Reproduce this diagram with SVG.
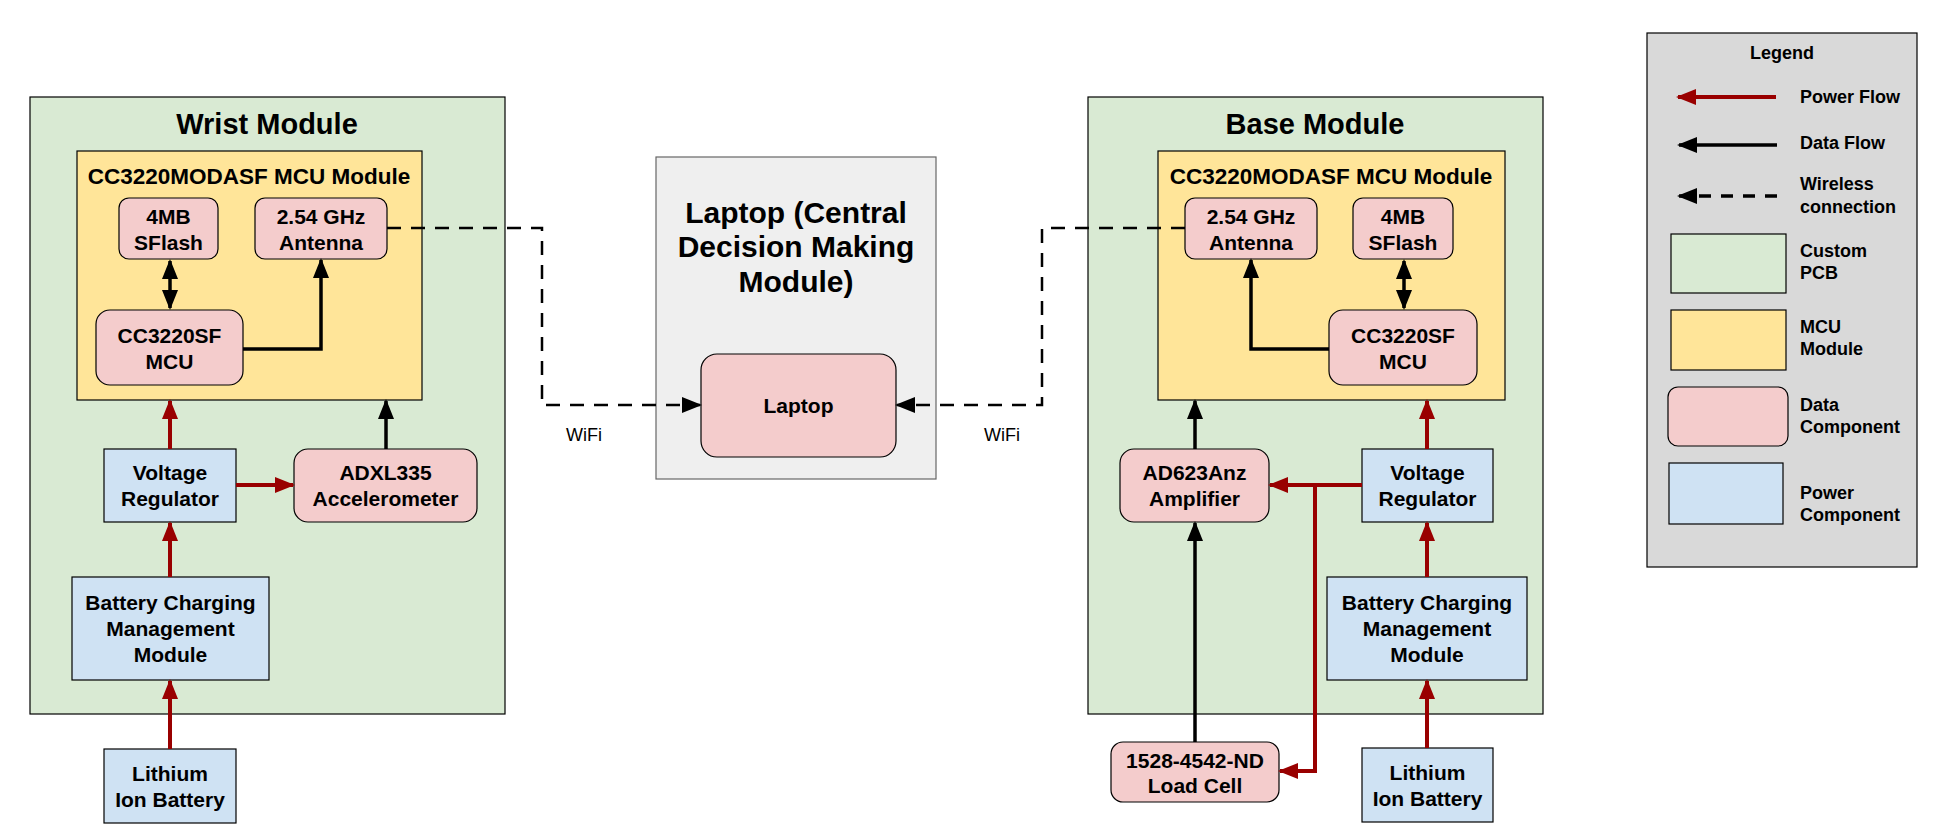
<svg xmlns="http://www.w3.org/2000/svg" width="1941" height="836" viewBox="0 0 1941 836">
<style>
text{font-family:"Liberation Sans",Arial,sans-serif;font-weight:bold;fill:#000;text-anchor:middle;dominant-baseline:central}
.pcb{fill:#d9ead3;stroke:#000;stroke-width:1.2}
.mcu{fill:#ffe599;stroke:#000;stroke-width:1.2}
.data{fill:#f4cccc;stroke:#000;stroke-width:1.2}
.pwr{fill:#cfe2f3;stroke:#000;stroke-width:1.2}
.t{font-size:21px}
.big{font-size:29px}
.lt{font-size:30px}
.mid{font-size:22.5px}
.lg{font-size:18px;text-anchor:start}
.wf{font-weight:normal;font-size:18px}
.p{fill:none;stroke:#990000;stroke-width:4}
.d{fill:none;stroke:#000;stroke-width:3.5}
.w{fill:none;stroke:#000;stroke-width:2.5;stroke-dasharray:14 10}
</style>
<defs>
<marker id="ar" markerUnits="userSpaceOnUse" markerWidth="20" markerHeight="20" viewBox="0 0 20 20" refX="18" refY="10" orient="auto"><path d="M0,2 L20,10 L0,18 z" fill="#990000"/></marker>
<marker id="ab" markerUnits="userSpaceOnUse" markerWidth="20" markerHeight="20" viewBox="0 0 20 20" refX="18" refY="10" orient="auto"><path d="M0,2 L20,10 L0,18 z" fill="#000"/></marker>
<marker id="abs" markerUnits="userSpaceOnUse" markerWidth="20" markerHeight="20" viewBox="0 0 20 20" refX="2" refY="10" orient="auto"><path d="M20,2 L0,10 L20,18 z" fill="#000"/></marker>
</defs>

<g id="wrist-module"><rect class="pcb" x="30" y="97" width="475" height="617"/><text class="big" x="267" y="124">Wrist Module</text></g>
<g id="wrist-mcu-module"><rect class="mcu" x="77" y="151" width="345" height="249"/><text class="mid" x="249" y="176">CC3220MODASF MCU Module</text></g>
<g id="wrist-sflash"><rect class="data" x="119" y="198" width="99" height="61" rx="10"/><text class="t"><tspan x="168.5" y="216">4MB</tspan><tspan x="168.5" y="242">SFlash</tspan></text></g>
<g id="wrist-antenna"><rect class="data" x="255" y="198" width="132" height="61" rx="10"/><text class="t"><tspan x="321" y="216">2.54 GHz</tspan><tspan x="321" y="242">Antenna</tspan></text></g>
<g id="wrist-cc3220sf"><rect class="data" x="96" y="310" width="147" height="75" rx="14"/><text class="t"><tspan x="169.5" y="335">CC3220SF</tspan><tspan x="169.5" y="361">MCU</tspan></text></g>
<g id="wrist-vreg"><rect class="pwr" x="104" y="449" width="132" height="73"/><text class="t"><tspan x="170" y="472">Voltage</tspan><tspan x="170" y="498">Regulator</tspan></text></g>
<g id="wrist-adxl"><rect class="data" x="294" y="449" width="183" height="73" rx="14"/><text class="t"><tspan x="385.5" y="472">ADXL335</tspan><tspan x="385.5" y="498">Accelerometer</tspan></text></g>
<g id="wrist-battery-mgmt"><rect class="pwr" x="72" y="577" width="197" height="103"/><text class="t"><tspan x="170.5" y="602">Battery Charging</tspan><tspan x="170.5" y="628">Management</tspan><tspan x="170.5" y="654">Module</tspan></text></g>
<g id="wrist-lithium"><rect class="pwr" x="104" y="749" width="132" height="74"/><text class="t"><tspan x="170" y="773">Lithium</tspan><tspan x="170" y="799">Ion Battery</tspan></text></g>

<g id="laptop-module"><rect x="656" y="157" width="280" height="322" fill="#efefef" stroke="#666" stroke-width="1.2"/><text class="lt"><tspan x="796" y="212">Laptop (Central</tspan><tspan x="796" y="246">Decision Making</tspan><tspan x="796" y="281">Module)</tspan></text></g>
<g id="laptop"><rect class="data" x="701" y="354" width="195" height="103" rx="16"/><text class="t" x="798.5" y="405">Laptop</text></g>

<g id="base-module"><rect class="pcb" x="1088" y="97" width="455" height="617"/><text class="big" x="1315" y="124">Base Module</text></g>
<g id="base-mcu-module"><rect class="mcu" x="1158" y="151" width="347" height="249"/><text class="mid" x="1331" y="176">CC3220MODASF MCU Module</text></g>
<g id="base-antenna"><rect class="data" x="1185" y="198" width="132" height="61" rx="10"/><text class="t"><tspan x="1251" y="216">2.54 GHz</tspan><tspan x="1251" y="242">Antenna</tspan></text></g>
<g id="base-sflash"><rect class="data" x="1353" y="198" width="100" height="61" rx="10"/><text class="t"><tspan x="1403" y="216">4MB</tspan><tspan x="1403" y="242">SFlash</tspan></text></g>
<g id="base-cc3220sf"><rect class="data" x="1329" y="310" width="148" height="75" rx="14"/><text class="t"><tspan x="1403" y="335">CC3220SF</tspan><tspan x="1403" y="361">MCU</tspan></text></g>
<g id="base-amp"><rect class="data" x="1120" y="449" width="149" height="73" rx="14"/><text class="t"><tspan x="1194.5" y="472">AD623Anz</tspan><tspan x="1194.5" y="498">Amplifier</tspan></text></g>
<g id="base-vreg"><rect class="pwr" x="1362" y="449" width="131" height="73"/><text class="t"><tspan x="1427.5" y="472">Voltage</tspan><tspan x="1427.5" y="498">Regulator</tspan></text></g>
<g id="base-battery-mgmt"><rect class="pwr" x="1327" y="577" width="200" height="103"/><text class="t"><tspan x="1427" y="602">Battery Charging</tspan><tspan x="1427" y="628">Management</tspan><tspan x="1427" y="654">Module</tspan></text></g>
<g id="base-loadcell"><rect class="data" x="1111" y="742" width="168" height="60" rx="12"/><text class="t"><tspan x="1195" y="760">1528-4542-ND</tspan><tspan x="1195" y="785">Load Cell</tspan></text></g>
<g id="base-lithium"><rect class="pwr" x="1362" y="748" width="131" height="74"/><text class="t"><tspan x="1427.5" y="772">Lithium</tspan><tspan x="1427.5" y="798">Ion Battery</tspan></text></g>

<g id="connectors">
<path class="d" d="M170,261 V308" marker-start="url(#abs)" marker-end="url(#ab)"/>
<path class="d" d="M243,349 H321 V260" marker-end="url(#ab)"/>
<path class="p" d="M170,449 V401" marker-end="url(#ar)"/>
<path class="d" d="M386,449 V401" marker-end="url(#ab)"/>
<path class="p" d="M236,485 H293" marker-end="url(#ar)"/>
<path class="p" d="M170,577 V523" marker-end="url(#ar)"/>
<path class="p" d="M170,749 V681" marker-end="url(#ar)"/>
<path class="w" d="M387,228 H542 V405 H700" marker-end="url(#ab)"/>
<path class="w" d="M1185,228 H1042 V405 H897" marker-end="url(#ab)"/>
<path class="d" d="M1329,349 H1251 V260" marker-end="url(#ab)"/>
<path class="d" d="M1404,261 V308" marker-start="url(#abs)" marker-end="url(#ab)"/>
<path class="d" d="M1195,449 V401" marker-end="url(#ab)"/>
<path class="p" d="M1427,449 V401" marker-end="url(#ar)"/>
<path class="p" d="M1427,577 V523" marker-end="url(#ar)"/>
<path class="p" d="M1427,748 V681" marker-end="url(#ar)"/>
<path class="d" d="M1195,742 V523" marker-end="url(#ab)"/>
<path class="p" d="M1362,485 H1270" marker-end="url(#ar)"/>
<path class="p" d="M1315,485 V771 H1280" marker-end="url(#ar)"/>
</g>
<text class="wf" x="584" y="435">WiFi</text>
<text class="wf" x="1002" y="435">WiFi</text>

<g id="legend">
<rect x="1647" y="33" width="270" height="534" fill="#d9d9d9" stroke="#000" stroke-width="1.2"/>
<text style="font-size:18px" x="1782" y="53">Legend</text>
<path class="p" d="M1776,97 H1678" marker-end="url(#ar)"/>
<text class="lg" x="1800" y="97">Power Flow</text>
<path class="d" d="M1777,145 H1679" marker-end="url(#ab)"/>
<text class="lg" x="1800" y="143">Data Flow</text>
<path class="w" d="M1777,196 H1679" style="stroke-dasharray:12 10;stroke-width:3.5" marker-end="url(#ab)"/>
<text class="lg"><tspan x="1800" y="184">Wireless</tspan><tspan x="1800" y="207">connection</tspan></text>
<rect class="pcb" x="1671" y="234" width="115" height="59"/>
<text class="lg"><tspan x="1800" y="251">Custom</tspan><tspan x="1800" y="273">PCB</tspan></text>
<rect class="mcu" x="1671" y="310" width="115" height="60"/>
<text class="lg"><tspan x="1800" y="327">MCU</tspan><tspan x="1800" y="349">Module</tspan></text>
<rect class="data" x="1668" y="387" width="120" height="59" rx="10"/>
<text class="lg"><tspan x="1800" y="405">Data</tspan><tspan x="1800" y="427">Component</tspan></text>
<rect class="pwr" x="1669" y="463" width="114" height="61"/>
<text class="lg"><tspan x="1800" y="493">Power</tspan><tspan x="1800" y="515">Component</tspan></text>
</g>
</svg>
